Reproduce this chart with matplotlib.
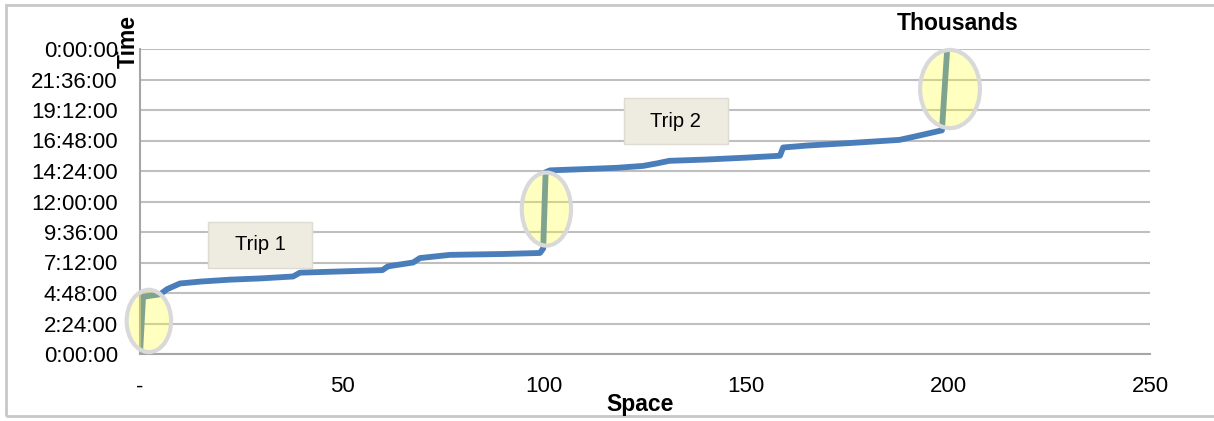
import matplotlib.pyplot as plt
from matplotlib.patches import Ellipse, Rectangle

plt.rcParams['font.family'] = ['Liberation Sans', 'DejaVu Sans']

# distance travelled (thousands) and clock time (hours)
space_k = [0, 0.75, 5.0, 6.7, 9.9, 15, 22.3, 30, 37.9, 39.6, 50, 60, 61.4, 67.6, 69.3,
           76.7, 90, 99.0, 99.8, 100.4, 101.5, 110, 118, 124.5, 128, 131, 140, 150,
           158.4, 159.2, 165, 175.7, 188, 192.3, 198.5, 199.8]
time_h = [0, 4.5, 4.7, 5.1, 5.55, 5.7, 5.85, 5.95, 6.1, 6.4, 6.5, 6.6, 6.9, 7.2, 7.55,
          7.8, 7.87, 7.95, 8.3, 14.3, 14.45, 14.55, 14.65, 14.8, 15.0, 15.2, 15.3, 15.45,
          15.6, 16.25, 16.4, 16.6, 16.85, 17.15, 17.6, 24.0]

x_ticks = [0, 50, 100, 150, 200, 250]
y_ticks = [0, 2.4, 4.8, 7.2, 9.6, 12, 14.4, 16.8, 19.2, 21.6, 24]

# highlighted jumps: centre x, centre y, width, height
jumps = [(2.2, 2.6, 11.0, 4.9), (100.6, 11.4, 12.2, 5.75), (200.5, 20.85, 14.8, 6.15)]
trips = [("Trip 1", 16.8, 6.77, 25.8, 3.62), ("Trip 2", 119.8, 16.52, 25.7, 3.62)]


def hms(h):
    total = int(round(h * 60))
    return f"{(total // 60) % 24}:{total % 60:02d}:00"


fig = plt.figure(figsize=(12.14, 4.21), dpi=100)
ax = fig.add_axes([140 / 1214, 67 / 421, 1010 / 1214, 305 / 421])

ax.plot(space_k, time_h, color='#4a7ebb', lw=4.2, solid_capstyle='round',
        solid_joinstyle='round', zorder=2)

for cx, cy, w, h in jumps:
    ax.add_patch(Ellipse((cx, cy), w, h, facecolor=(1, 1, 0.15, 0.29),
                         edgecolor='#d9d9d9', lw=3, zorder=3, clip_on=False))

for label, x0, y0, w, h in trips:
    ax.add_patch(Rectangle((x0, y0), w, h, facecolor='#eeece1', edgecolor='#dddbd2',
                           lw=1, zorder=4))
    ax.text(x0 + w / 2, y0 + h / 2, label, ha='center', va='center',
            fontsize=14.5, zorder=5)

ax.set_xlim(0, 250)
ax.set_ylim(0, 24)
ax.set_xticks(x_ticks)
ax.set_xticklabels(['-'] + [str(v) for v in x_ticks[1:]], fontsize=16)
ax.set_yticks(y_ticks)
ax.set_yticklabels([hms(v) for v in y_ticks], fontsize=16)
ax.tick_params(length=0, pad=16)
ax.grid(axis='y', color='#bfbfbf', lw=1.5)
ax.set_axisbelow(True)
for side in ('top', 'right'):
    ax.spines[side].set_visible(False)
for side in ('left', 'bottom'):
    ax.spines[side].set_color('#a6a6a6')
    ax.spines[side].set_linewidth(1.5)

fig.text(640 / 1214, 1 - 405 / 421, 'Space', ha='center', va='center',
         fontsize=16.5, fontweight='bold')
fig.text(958 / 1214, 1 - 24 / 421, 'Thousands', ha='center', va='center',
         fontsize=16.5, fontweight='bold')
fig.text(128 / 1214, 1 - 41 / 421, 'Time', ha='center', va='center', rotation=90,
         fontsize=16.5, fontweight='bold')

# chart frame
fig.patches.append(Rectangle((6 / 1214, 5 / 421), 1.2, 411 / 421, transform=fig.transFigure,
                             fill=False, edgecolor='#c8c8c8', lw=2))

fig.savefig('out.png', dpi=100)
